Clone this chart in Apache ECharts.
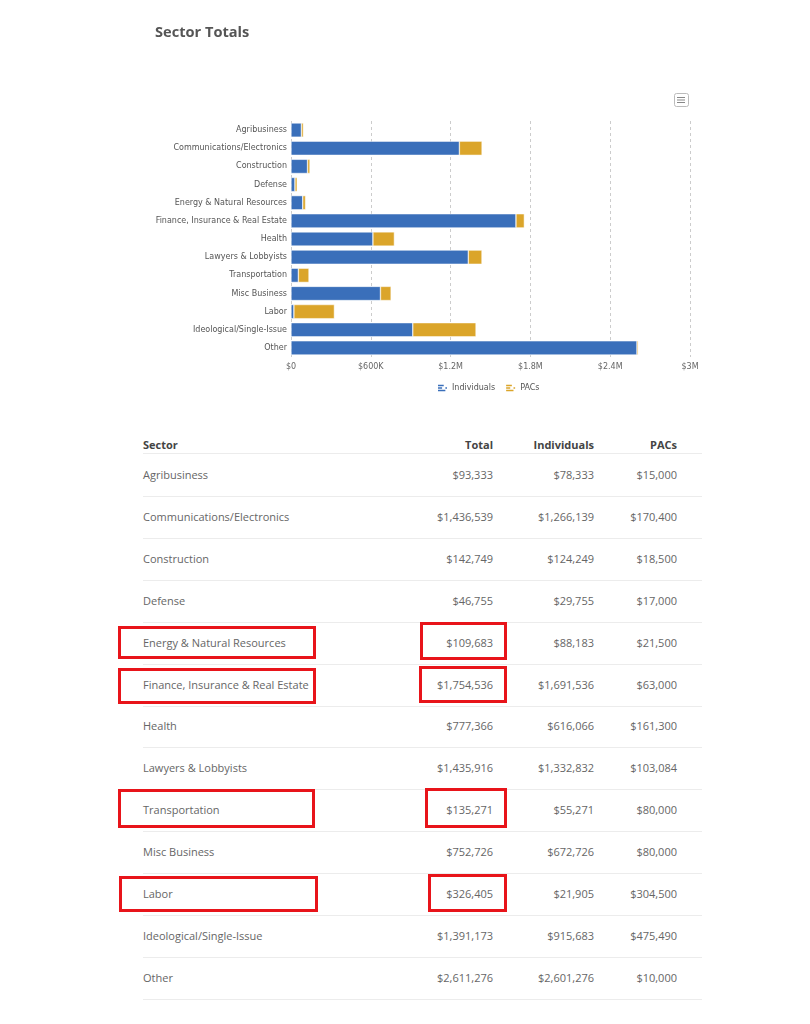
<!DOCTYPE html>
<html><head><meta charset="utf-8">
<script src="https://cdn.jsdelivr.net/npm/echarts@6/dist/echarts.min.js"></script>
<style>
html,body{margin:0;padding:0;background:#fff;width:810px;height:1024px;overflow:hidden;font-family:"Open Sans",sans-serif;}
#chart{position:absolute;left:0;top:0;width:810px;height:420px;}
.title{position:absolute;left:155px;top:21px;font:bold 14.6px "Open Sans";color:#555;}
.cell{position:absolute;font-size:11px;color:#666;line-height:16px;white-space:nowrap;}
.hdr{font-weight:bold;color:#444;}
.line{position:absolute;left:143px;width:559px;height:1px;background:#ececec;}
.box{position:absolute;border:3px solid #e8141a;box-sizing:border-box;}
</style></head>
<body>
<div id="chart"></div>
<div class="title">Sector Totals</div>
<div id="table"></div>
<script>
const sectors = ["Agribusiness","Communications/Electronics","Construction","Defense","Energy & Natural Resources","Finance, Insurance & Real Estate","Health","Lawyers & Lobbyists","Transportation","Misc Business","Labor","Ideological/Single-Issue","Other"];
const individuals = [78333,1266139,124249,29755,88183,1691536,616066,1332832,55271,672726,21905,915683,2601276];
const pacs = [15000,170400,18500,17000,21500,63000,161300,103084,80000,80000,304500,475490,10000];
const totals = [93333,1436539,142749,46755,109683,1754536,777366,1435916,135271,752726,326405,1391173,2611276];
const xTicks = ["$0","$600K","$1.2M","$1.8M","$2.4M","$3M"];
const headers = ["Sector","Total","Individuals","PACs"];

const blue = '#3a6fba', gold = '#dba52a';
const chart = echarts.init(document.getElementById('chart'), null, {renderer:'canvas'});
const icon = 'path://M0,0L7,0L7,2L0,2Z M0,3L5,3L5,5L0,5Z M0,6L9,6L9,8L0,8Z M9,3L11,3L11,5L9,5Z';
chart.setOption({
  animation:false,
  grid:{left:291,right:120,top:121,height:236},
  legend:{top:379,left:433,itemWidth:9,itemHeight:8,itemGap:11,
    textStyle:{fontFamily:'DejaVu Sans',fontSize:8,color:'#555'},
    data:[{name:'Individuals',icon:icon,itemStyle:{color:blue,borderWidth:0}},
          {name:'PACs',icon:icon,itemStyle:{color:gold,borderWidth:0}}]},
  xAxis:{type:'value',min:0,max:3000000,interval:600000,
    axisLine:{show:false},axisTick:{show:false},
    axisLabel:{fontFamily:'DejaVu Sans',fontSize:8,color:'#666',margin:6,
      formatter:(v)=>xTicks[Math.round(v/600000)]},
    splitLine:{lineStyle:{type:[3,3],color:'#ccc'}}},
  yAxis:{type:'category',inverse:true,data:sectors,
    axisLine:{show:false},axisTick:{show:false},
    axisLabel:{fontFamily:'DejaVu Sans',fontSize:8,color:'#555',margin:4}},
  graphic:[
    {type:'rect',left:674,top:93,shape:{width:14,height:13,r:2},style:{fill:'#fff',stroke:'#bbb',lineWidth:1}},
    {type:'rect',left:677,top:97,shape:{width:8,height:1},style:{fill:'#888'}},
    {type:'rect',left:677,top:99.5,shape:{width:8,height:1},style:{fill:'#888'}},
    {type:'rect',left:677,top:102,shape:{width:8,height:1},style:{fill:'#888'}}
  ],
  series:[
    {name:'Individuals',type:'bar',stack:'t',data:individuals,barCategoryGap:'22%',
      itemStyle:{color:blue,borderColor:'#fff',borderWidth:0.5}},
    {name:'PACs',type:'bar',stack:'t',data:pacs,barCategoryGap:'22%',
      itemStyle:{color:gold,borderColor:'#fff',borderWidth:0.5}}
  ]
});

const t = document.getElementById('table');
const fmt = v => '$' + v.toLocaleString('en-US');
const rightEdges = [null,493,594,677];
function addCell(text,y,col,cls){
  const d=document.createElement('div');
  d.className='cell'+(cls?' '+cls:'');
  d.textContent=text;
  d.style.top=(y-8)+'px';
  if(col===0){d.style.left='143px';}
  else{d.style.right=(810-rightEdges[col])+'px';}
  t.appendChild(d);
}
function addLine(y){const l=document.createElement('div');l.className='line';l.style.top=y+'px';t.appendChild(l);}
headers.forEach((h,i)=>addCell(h,445,i,'hdr'));
addLine(453);
const rowStep=41.9;
sectors.forEach((s,i)=>{
  const y=475+i*rowStep;
  addCell(s,y,0);addCell(fmt(totals[i]),y,1);addCell(fmt(individuals[i]),y,2);addCell(fmt(pacs[i]),y,3);
  addLine(Math.round(y+21));
});
const boxes = [
  [118,626,198,33],[420,622,87,38],
  [118,668,198,36],[419,666,88,37],
  [118,789,197,39],[425,788,82,40],
  [119,876,199,36],[428,874,79,38]
];
boxes.forEach(b=>{const d=document.createElement('div');d.className='box';
  d.style.left=b[0]+'px';d.style.top=b[1]+'px';d.style.width=b[2]+'px';d.style.height=b[3]+'px';t.appendChild(d);});
</script>
</body></html>
